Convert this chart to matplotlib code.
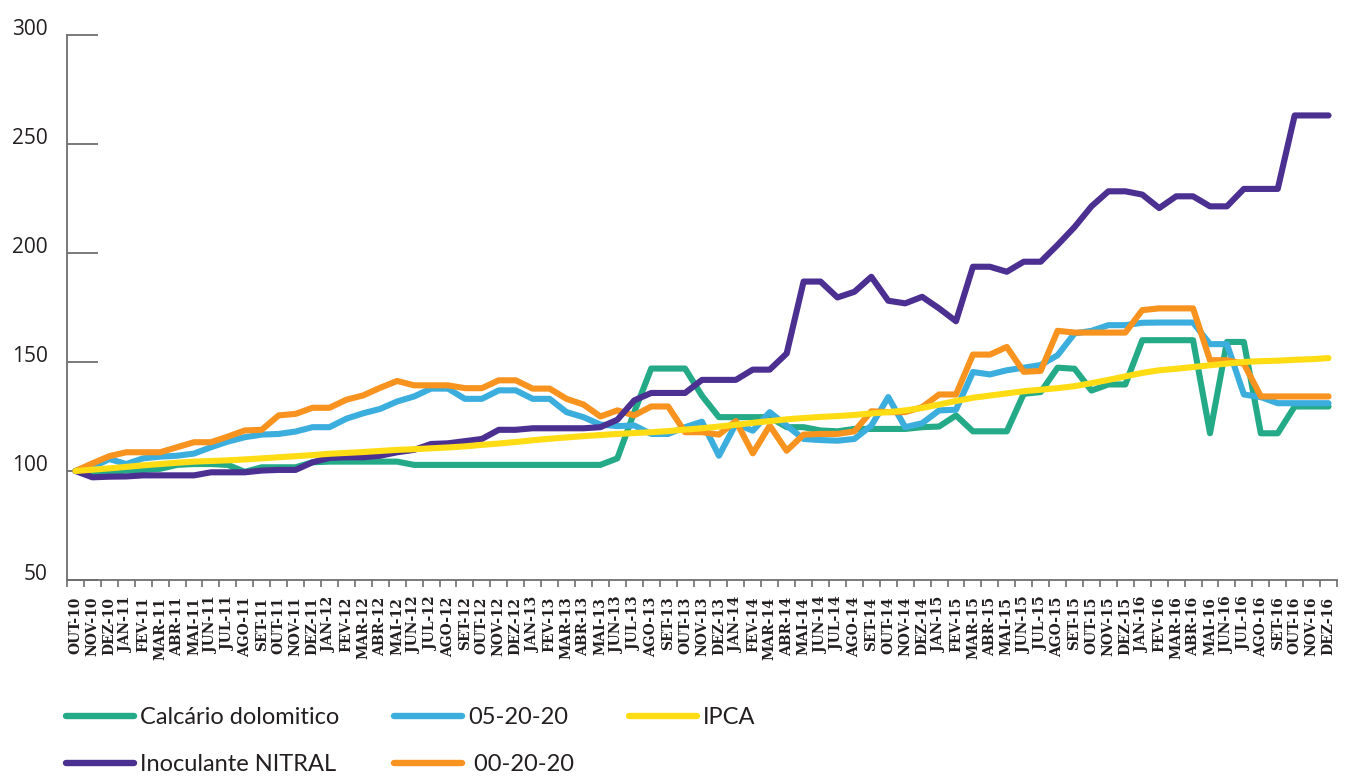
import numpy as np
import matplotlib
matplotlib.use("Agg")
import matplotlib.pyplot as plt
import matplotlib.transforms as mtransforms

# Meses (OUT-10 .. DEZ-16)
meses = ["OUT-10", "NOV-10", "DEZ-10",
         "JAN-11", "FEV-11", "MAR-11", "ABR-11", "MAI-11", "JUN-11", "JUL-11", "AGO-11", "SET-11", "OUT-11", "NOV-11", "DEZ-11",
         "JAN-12", "FEV-12", "MAR-12", "ABR-12", "MAI-12", "JUN-12", "JUL-12", "AGO-12", "SET-12", "OUT-12", "NOV-12", "DEZ-12",
         "JAN-13", "FEV-13", "MAR-13", "ABR-13", "MAI-13", "JUN-13", "JUL-13", "AGO-13", "SET-13", "OUT-13", "NOV-13", "DEZ-13",
         "JAN-14", "FEV-14", "MAR-14", "ABR-14", "MAI-14", "JUN-14", "JUL-14", "AGO-14", "SET-14", "OUT-14", "NOV-14", "DEZ-14",
         "JAN-15", "FEV-15", "MAR-15", "ABR-15", "MAI-15", "JUN-15", "JUL-15", "AGO-15", "SET-15", "OUT-15", "NOV-15", "DEZ-15",
         "JAN-16", "FEV-16", "MAR-16", "ABR-16", "MAI-16", "JUN-16", "JUL-16", "AGO-16", "SET-16", "OUT-16", "NOV-16", "DEZ-16"]

calcario = [100.0, 99.5, 99.6, 100.2, 100.5, 101.0, 102.8, 103.2, 103.2, 102.8, 99.6, 101.7, 101.7, 101.7, 104.0,
            104.3, 104.3, 104.3, 104.3, 104.3, 102.8, 102.8, 102.8, 102.8, 102.8, 102.8, 102.8,
            102.8, 102.8, 102.8, 102.8, 102.8, 105.8, 127.0, 147.0, 147.0, 147.0, 134.5, 124.7,
            124.7, 124.7, 124.7, 120.1, 120.1, 118.6, 118.2, 119.3, 119.3, 119.3, 119.3, 120.1,
            120.4, 125.5, 118.2, 118.2, 118.2, 135.4, 136.2, 147.4, 146.9, 136.9, 139.7, 139.7,
            160.0, 160.0, 160.0, 160.0, 117.3, 159.2, 159.2, 117.3, 117.3, 129.6, 129.6, 129.6]

npk_052020 = [100.0, 101.7, 105.5, 103.2, 105.8, 106.6, 107.0, 108.0, 110.9, 113.5, 115.5, 116.7, 117.0, 118.1, 120.1,
              120.1, 124.0, 126.5, 128.5, 131.9, 134.2, 137.8, 137.8, 133.1, 133.1, 137.0, 137.0,
              133.1, 133.1, 127.0, 124.7, 121.3, 120.6, 120.9, 117.0, 117.0, 120.1, 122.6, 107.0,
              121.6, 118.5, 127.0, 120.8, 114.7, 114.2, 113.9, 114.7, 120.8, 133.9, 120.1, 121.9,
              127.8, 128.1, 145.4, 144.3, 146.2, 147.4, 148.6, 153.1, 163.1, 164.3, 166.9, 166.9,
              168.0, 168.1, 168.1, 168.1, 158.2, 158.2, 135.1, 133.9, 131.1, 131.1, 131.1, 131.1]

ipca = [100.0, 100.6, 101.2, 101.9, 102.6, 103.2, 103.8, 104.3, 104.6, 104.9, 105.3, 105.8, 106.3, 106.8, 107.3,
        107.9, 108.3, 108.7, 109.2, 109.7, 110.0, 110.4, 110.8, 111.3, 112.0, 112.6, 113.3,
        114.1, 114.8, 115.4, 116.0, 116.5, 117.0, 117.4, 117.8, 118.3, 119.0, 119.6, 120.4,
        121.2, 122.1, 122.9, 123.7, 124.3, 124.8, 125.2, 125.7, 126.4, 127.0, 127.8, 128.9,
        130.5, 132.1, 133.6, 134.6, 135.6, 136.6, 137.3, 138.0, 138.9, 140.3, 141.8, 143.4,
        145.0, 146.2, 146.9, 147.7, 148.5, 149.3, 150.0, 150.4, 150.6, 151.0, 151.3, 151.8]

inoculante = [100.0, 97.1, 97.4, 97.5, 98.0, 98.0, 98.0, 98.0, 99.4, 99.4, 99.4, 100.2, 100.5, 100.5, 104.0,
              106.0, 106.3, 106.3, 107.0, 108.6, 109.7, 112.4, 112.7, 113.7, 114.7, 118.9, 118.9,
              119.6, 119.6, 119.6, 119.6, 120.1, 123.5, 132.4, 135.8, 135.8, 135.8, 141.8, 141.8,
              141.8, 146.5, 146.5, 153.9, 186.9, 186.9, 179.6, 182.2, 189.1, 178.1, 176.9, 179.9,
              174.6, 168.7, 193.7, 193.7, 191.4, 196.0, 196.0, 203.7, 211.9, 221.4, 228.3, 228.3,
              226.8, 220.6, 226.0, 226.0, 221.4, 221.4, 229.4, 229.4, 229.4, 263.1, 263.1, 263.1]

npk_002020 = [100.0, 103.5, 106.8, 108.6, 108.6, 108.6, 110.9, 113.2, 113.2, 115.8, 118.6, 118.9, 125.5, 126.2, 129.0,
              129.0, 132.7, 134.7, 138.2, 141.3, 139.3, 139.3, 139.3, 138.0, 138.0, 141.6, 141.6,
              137.8, 137.8, 133.1, 130.5, 125.0, 127.8, 125.5, 129.6, 129.6, 117.8, 117.8, 116.7,
              122.9, 108.1, 120.8, 109.3, 116.7, 117.0, 117.0, 118.2, 127.4, 127.0, 127.0, 129.3,
              135.1, 135.1, 153.4, 153.4, 156.9, 145.5, 145.9, 164.3, 163.5, 163.5, 163.5, 163.5,
              173.8, 174.6, 174.6, 174.6, 150.8, 150.8, 149.2, 134.2, 134.2, 134.2, 134.2, 134.2]

cor_verde = "#24aa87"
cor_azul = "#3caede"
cor_amarelo = "#ffdc14"
cor_roxo = "#4b2f91"
cor_laranja = "#f7931e"

fig = plt.figure(figsize=(13.49, 7.78), dpi=100)
ax = fig.add_axes([67 / 1349, 198 / 778, 1270 / 1349, 545 / 778])

x = np.arange(len(meses))
estilo = dict(lw=4.4, solid_joinstyle="round", solid_capstyle="round")

l_calc, = ax.plot(x, calcario, color=cor_verde, label="Calcário dolomitico", **estilo)
l_052, = ax.plot(x, npk_052020, color=cor_azul, label="05-20-20", **estilo)
l_002, = ax.plot(x, npk_002020, color=cor_laranja, label="00-20-20", **estilo)
l_ino, = ax.plot(x, inoculante, color=cor_roxo, label="Inoculante NITRAL", **estilo)
l_ipca, = ax.plot(x, ipca, color=cor_amarelo, label="IPCA", **estilo)

ax.set_xlim(-0.5, len(meses) - 0.5)
ax.set_ylim(50, 300)

for s in ["top", "right"]:
    ax.spines[s].set_visible(False)
for s in ["left", "bottom"]:
    ax.spines[s].set_color("#6d6e70")
    ax.spines[s].set_linewidth(1.3)

# eixo y
ax.set_yticks([50, 100, 150, 200, 250, 300])
ax.tick_params(axis="y", direction="in", length=22, width=1.3, color="#6d6e70",
               pad=14, labelsize=15, labelcolor="#231f20")
off = mtransforms.ScaledTranslation(0, 8 / 100, fig.dpi_scale_trans)
for lab in ax.get_yticklabels():
    lab.set_transform(lab.get_transform() + off)
    lab.set_family(["Open Sans", "DejaVu Sans"])

# eixo x: rotulos no centro, tracos nas divisas
ax.set_xticks(x)
ax.set_xticklabels(meses, rotation=90, fontsize=10, fontweight="bold",
                   family="DejaVu Serif", color="#231f20")
ax.set_xticks(np.arange(-0.5, len(meses)), minor=True)
ax.tick_params(axis="x", which="major", length=0, pad=12)
ax.tick_params(axis="x", which="minor", length=5, width=1.2, color="#6d6e70")

leg = fig.legend(handles=[l_calc, l_ino, l_052, l_002, l_ipca],
                 labels=["Calcário dolomitico", "Inoculante NITRAL", "05-20-20", " 00-20-20", "IPCA"],
                 ncol=3, loc="upper left", bbox_to_anchor=(66 / 1349, 1 - 707 / 778),
                 frameon=False, handlelength=2.9, handletextpad=0.25, columnspacing=2.3,
                 labelspacing=1.1, borderpad=0, borderaxespad=0,
                 prop={"family": ["Lato", "DejaVu Sans"], "size": 17})
for t in leg.get_texts():
    t.set_color("#231f20")
for h in leg.legend_handles:
    h.set_linewidth(4.6)

fig.savefig("out.png", dpi=100)
